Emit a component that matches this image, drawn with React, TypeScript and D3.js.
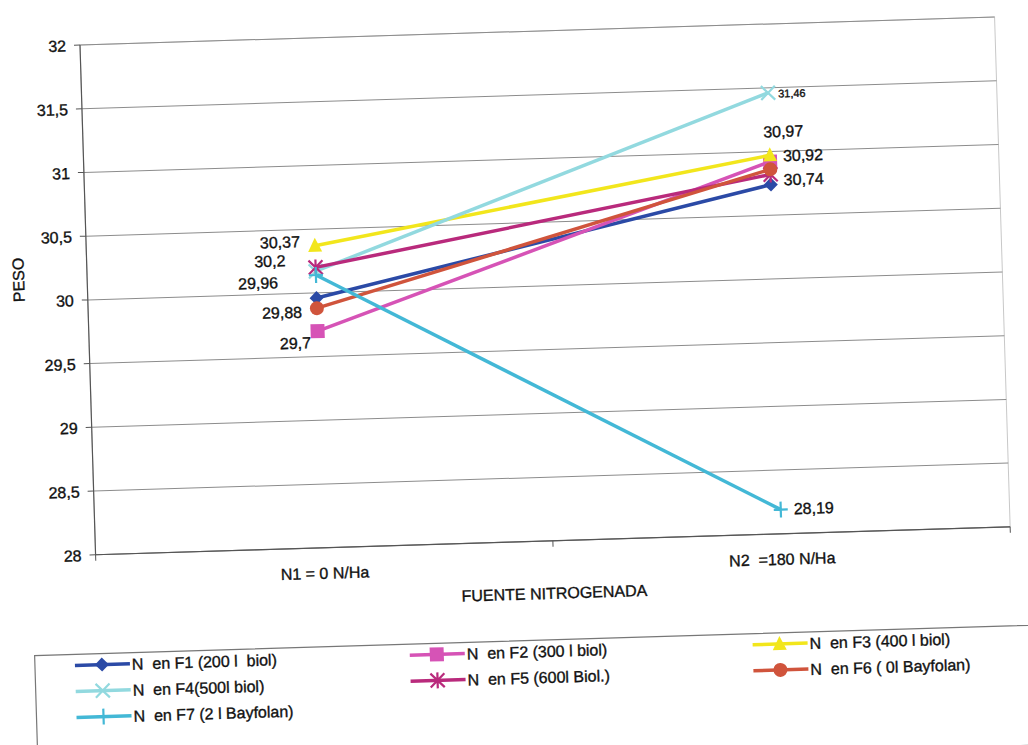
import React from "react";
import * as d3 from "d3";

// ---------- data ----------
const categories = ["N1 = 0 N/Ha", "N2  =180 N/Ha"];
const seriesNames = [
  "N  en F1 (200 l  biol)",
  "N  en F2 (300 l biol)",
  "N  en F3 (400 l biol)",
  "N  en F4(500l biol)",
  "N  en F5 (600l Biol.)",
  "N  en F6 ( 0l Bayfolan)",
  "N  en F7 (2 l Bayfolan)",
];
const f1Values = [29.96, 30.74];
const f2Values = [29.7, 30.92];
const f3Values = [30.37, 30.97];
const f4Values = [30.17, 31.46];
const f5Values = [30.2, 30.82];
const f6Values = [29.88, 30.86];
const f7Values = [30.14, 28.19];
const yTicks = [28, 28.5, 29, 29.5, 30, 30.5, 31, 31.5, 32];
const yTitle = "PESO";
const xTitle = "FUENTE NITROGENADA";

// ---------- styles ----------
const colors = ["#2b4aa6", "#d653b6", "#f2e61c", "#92d9df", "#b92a7c", "#d0543c", "#43b8d6"];
const markers = ["diamond", "square", "triangle", "x", "star", "circle", "plus"];
// data label placement per series & category: [dx, dy, anchor, fontSize] or null
const labelPlacement: (null | [number, number, string, number])[][] = [
  [[-38, -11, "end", 16], [13, 1, "start", 16]],
  [[-7, 17, "end", 16], [13, 0, "start", 16]],
  [[-15, 1, "end", 16], [-6, -18, "start", 16]],
  [null, [10, 5, "start", 11]],
  [[-30, -2, "end", 16], null],
  [[-15, 9, "end", 16], null],
  [null, [13, 5, "start", 16]],
];

const W = 1028;
const H = 745;
const plot = { left: 80, top: 45, right: 995, bottom: 555 };
const FONT = "'Liberation Sans', Arial, sans-serif";
const textStyle = { fill: "#111", stroke: "#111", strokeWidth: 0.35 };

function Marker({ type, x, y, color }: { type: string; x: number; y: number; color: string }) {
  const s = 7;
  switch (type) {
    case "diamond":
      return <path d={`M${x},${y - s} L${x + s},${y} L${x},${y + s} L${x - s},${y} Z`} fill={color} />;
    case "square":
      return <rect x={x - s} y={y - s} width={2 * s} height={2 * s} fill={color} />;
    case "triangle":
      return <path d={`M${x},${y - s - 1} L${x + s},${y + s - 1} L${x - s},${y + s - 1} Z`} fill={color} />;
    case "circle":
      return <circle cx={x} cy={y} r={s} fill={color} />;
    case "x":
      return (
        <path d={`M${x - s},${y - s} L${x + s},${y + s} M${x - s},${y + s} L${x + s},${y - s}`} stroke={color} strokeWidth={2.2} />
      );
    case "star":
      return (
        <path
          d={`M${x - s},${y - s} L${x + s},${y + s} M${x - s},${y + s} L${x + s},${y - s} M${x},${y - s - 1} L${x},${y + s + 1}`}
          stroke={color}
          strokeWidth={2.2}
        />
      );
    case "plus":
      return (
        <path d={`M${x - s},${y} L${x + s},${y} M${x},${y - s - 1} L${x},${y + s + 1}`} stroke={color} strokeWidth={2.2} />
      );
    default:
      return null;
  }
}

export default function App() {
  const allSeries = [f1Values, f2Values, f3Values, f4Values, f5Values, f6Values, f7Values];
  const x = d3.scaleBand().domain(categories).range([plot.left, plot.right]);
  const y = d3.scaleLinear().domain([28, 32]).range([plot.bottom, plot.top]);
  const cx = (c: string) => (x(c) as number) + x.bandwidth() / 2;
  const line = d3
    .line<number>()
    .x((_, i) => cx(categories[i]))
    .y((d) => y(d));
  const fmt = (v: number) => String(v).replace(".", ",");

  const legendCols = [56, 391, 734];
  const legendRows = [665, 691, 717];

  return (
    <svg
      width={W}
      height={H}
      style={{ position: "absolute", left: 0, top: 0, background: "#fff" }}
      fontFamily={FONT}
    >
      <rect x={0} y={0} width={W} height={H} fill="#fff" />
      <g transform={`rotate(-1.75, ${plot.left}, ${plot.top})`}>
        {/* plot area border */}
        <rect
          x={plot.left}
          y={plot.top}
          width={plot.right - plot.left}
          height={plot.bottom - plot.top}
          fill="none"
          stroke="#c8c8c8"
          strokeWidth={1}
        />
        {/* gridlines */}
        {yTicks.map((t) => (
          <line key={"g" + t} x1={plot.left} x2={plot.right} y1={y(t)} y2={y(t)} stroke="#8c8c8c" strokeWidth={1} />
        ))}
        {/* axes */}
        <line x1={plot.left} x2={plot.left} y1={plot.top} y2={plot.bottom} stroke="#555" strokeWidth={1.2} />
        <line x1={plot.left} x2={plot.right} y1={plot.bottom} y2={plot.bottom} stroke="#555" strokeWidth={1.2} />
        {yTicks.map((t) => (
          <g key={"t" + t}>
            <line x1={plot.left - 6} x2={plot.left} y1={y(t)} y2={y(t)} stroke="#555" />
            <text x={plot.left - 14} y={y(t) + 6} textAnchor="end" fontSize={16} {...textStyle}>
              {fmt(t)}
            </text>
          </g>
        ))}
        {[plot.left, (plot.left + plot.right) / 2, plot.right].map((px, i) => (
          <line key={"xt" + i} x1={px} x2={px} y1={plot.bottom} y2={plot.bottom + 6} stroke="#555" />
        ))}
        {categories.map((c) => (
          <text key={c} x={cx(c)} y={plot.bottom + 31} textAnchor="middle" fontSize={16} {...textStyle} style={{ whiteSpace: "pre" }}>
            {c}
          </text>
        ))}
        <text x={(plot.left + plot.right) / 2} y={plot.bottom + 58} textAnchor="middle" fontSize={16} {...textStyle}>
          {xTitle}
        </text>
        <text
          transform={`translate(17, ${(plot.top + plot.bottom) / 2 - 22}) rotate(-90)`}
          textAnchor="middle"
          fontSize={16}
          {...textStyle}
        >
          {yTitle}
        </text>

        {/* series */}
        {allSeries.map((vals, si) => (
          <g key={"s" + si}>
            <path d={line(vals) || ""} fill="none" stroke={colors[si]} strokeWidth={3.5} />
            {vals.map((v, ci) => (
              <Marker key={ci} type={markers[si]} x={cx(categories[ci])} y={y(v)} color={colors[si]} />
            ))}
          </g>
        ))}
        {/* data labels */}
        {allSeries.map((vals, si) =>
          vals.map((v, ci) => {
            const p = labelPlacement[si][ci];
            if (!p) return null;
            return (
              <text
                key={`l${si}-${ci}`}
                x={cx(categories[ci]) + p[0]}
                y={y(v) + p[1]}
                textAnchor={p[2] as any}
                fontSize={p[3]}
                {...textStyle}
              >
                {fmt(v)}
              </text>
            );
          })
        )}

        {/* legend */}
        <rect x={16} y={654} width={1040} height={120} fill="#fff" stroke="#777" strokeWidth={1.2} />
        {seriesNames.map((name, i) => {
          const lx = legendCols[i % 3];
          const ly = legendRows[Math.floor(i / 3)];
          return (
            <g key={name}>
              <line x1={lx} x2={lx + 55} y1={ly} y2={ly} stroke={colors[i]} strokeWidth={3.5} />
              <Marker type={markers[i]} x={lx + 27} y={ly} color={colors[i]} />
              <text x={lx + 57} y={ly + 6} fontSize={16} {...textStyle} style={{ whiteSpace: "pre" }}>
                {name}
              </text>
            </g>
          );
        })}
      </g>
    </svg>
  );
}
